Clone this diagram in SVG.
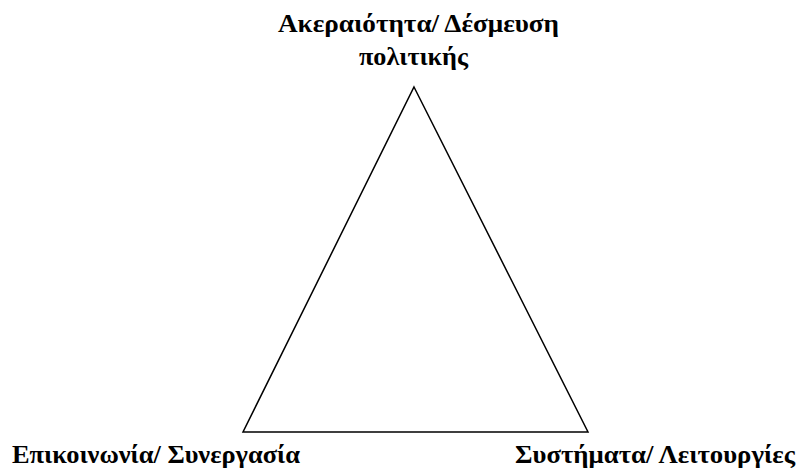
<svg xmlns="http://www.w3.org/2000/svg" width="801" height="472" viewBox="0 0 801 472">
<style>
.lbl{font-family:"Liberation Serif","Times New Roman",serif;font-weight:bold;font-size:26px;fill:#000}
.edge{fill:none;stroke:#000;stroke-width:1.5}
</style>
<rect width="801" height="472" fill="#fff"/>
<g id="connectors">
<path class="edge" d="M414,87 L588,432 L243,432 Z"/>
</g>
<g id="node-top">
<text class="lbl" x="278" y="32" textLength="281" lengthAdjust="spacingAndGlyphs">Ακεραιότητα/ Δέσμευση</text>
<text class="lbl" x="359" y="65" textLength="109" lengthAdjust="spacingAndGlyphs">πολιτικής</text>
</g>
<g id="node-left">
<text class="lbl" x="12" y="463" textLength="288" lengthAdjust="spacingAndGlyphs">Επικοινωνία/ Συνεργασία</text>
</g>
<g id="node-right">
<text class="lbl" x="515" y="463" textLength="280" lengthAdjust="spacingAndGlyphs">Συστήματα/ Λειτουργίες</text>
</g>
</svg>
